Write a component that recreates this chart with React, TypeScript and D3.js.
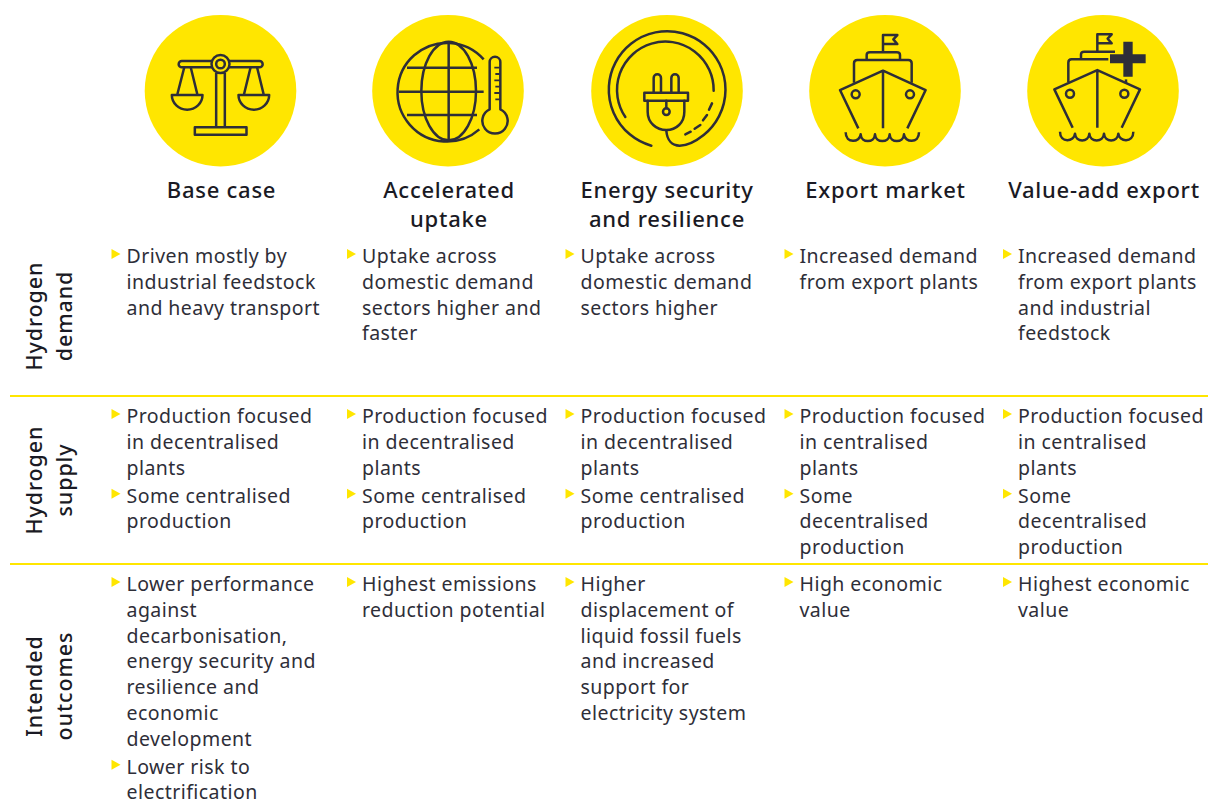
import * as d3 from 'd3';

const scenarios = ['base', 'accelerated', 'security', 'export', 'valueAdd'];
const scenarioTitles = [
  ['Base case'],
  ['Accelerated', 'uptake'],
  ['Energy security', 'and resilience'],
  ['Export market'],
  ['Value-add export'],
];
const rowNames = ['demand', 'supply', 'outcomes'];
const rowTitles = [
  ['Hydrogen', 'demand'],
  ['Hydrogen', 'supply'],
  ['Intended', 'outcomes'],
];

const demandText = [
  [['Driven mostly by', 'industrial feedstock', 'and heavy transport']],
  [['Uptake across', 'domestic demand', 'sectors higher and', 'faster']],
  [['Uptake across', 'domestic demand', 'sectors higher']],
  [['Increased demand', 'from export plants']],
  [['Increased demand', 'from export plants', 'and industrial', 'feedstock']],
];
const decentralised = [
  ['Production focused', 'in decentralised', 'plants'],
  ['Some centralised', 'production'],
];
const centralised = [
  ['Production focused', 'in centralised', 'plants'],
  ['Some', 'decentralised', 'production'],
];
const supplyText = [decentralised, decentralised, decentralised, centralised, centralised];
const outcomesText = [
  [
    ['Lower performance', 'against', 'decarbonisation,', 'energy security and', 'resilience and', 'economic', 'development'],
    ['Lower risk to', 'electrification'],
  ],
  [['Highest emissions', 'reduction potential']],
  [['Higher', 'displacement of', 'liquid fossil fuels', 'and increased', 'support for', 'electricity system']],
  [['High economic', 'value']],
  [['Highest economic', 'value']],
];
const rowText = [demandText, supplyText, outcomesText];

// layout
const YELLOW = '#ffe600';
const DARK = '#2e2e38';
const FONT = '"Noto Sans", sans-serif';

const textX = d3.scaleOrdinal<string, number>().domain(scenarios).range([126.5, 362, 580.5, 799.5, 1018]);
const iconX = d3.scaleOrdinal<string, number>().domain(scenarios).range([220.5, 448, 667, 885, 1103]);
const titleX = d3.scaleOrdinal<string, number>().domain(scenarios).range([221.5, 449, 667, 885.5, 1104]);
const rowTop = d3.scaleOrdinal<string, number>().domain(rowNames).range([263, 423, 591]);
const rowMid = d3.scaleOrdinal<string, number>().domain(rowNames).range([316, 480, 686]);
const LINE = 25.75;
const BULLET_GAP = 2.4;

const triangle = d3.line()([[-15, -14], [-6, -9], [-15, -4]]) + 'Z';

// icons are traced at 3x, so every one of them sits in a scale(1/3) group
const IconGroup = ({ x, children }: any) => (
  <g
    transform={`translate(${x},90.7) scale(${1 / 3})`}
    fill="none"
    stroke={DARK}
    strokeWidth={7.5}
    strokeLinecap="round"
    strokeLinejoin="round"
  >
    {children}
  </g>
);

const Scales = () => (
  <g transform="translate(-271,-272)" strokeLinecap="butt">
    <path d="M245 183H155a9.5 9.5 0 0 0 0 19H245M297 183H388a9.5 9.5 0 0 1 0 19H297" />
    <circle cx={271} cy={192} r={27} />
    <circle cx={271} cy={192} r={13} />
    <path d="M258 218V382M284 218V382" />
    <rect x={194} y={382} width={155} height={22} />
    <path d="M162 203L141 285M182 203L202 285M125 285H217A46 44 0 0 1 125 285Z" />
    <path d="M361 203L341 285M381 203L401 285M325 285H417A46 44 0 0 1 325 285Z" />
  </g>
);

const Globe = () => (
  <g transform="translate(-953,-272)" strokeLinecap="butt">
    <path d="M1060 178A148 148 0 1 0 1047 388" />
    <ellipse cx={955} cy={273} rx={82} ry={148} />
    <path d="M955 125V421M830 203H1040M806 275H1060M830 345H1040" />
    <path d="M1078 328V186A16 16 0 0 1 1110 186V328A38 38 0 1 1 1078 328Z" />
    <path d="M1092 203H1108M1095 222H1108M1092 241H1108M1095 260H1108M1092 279H1108M1095 298H1108" strokeWidth={5.5} />
  </g>
);

const Plug = () => (
  <g transform="translate(-290,-272)">
    <path d="M243 437A175 175 0 1 1 400 405C375 425 350 437 328 437C305 437 290 420 288 392" />
    <path d="M165 351A145 145 0 1 1 430 272" />
    <path d="M345 403L361 395M373 386L390 375M398 361L410 345M416 329L425 310" />
    <path d="M250 278V234A11 11 0 0 1 272 234V278M303 278V234A11 11 0 0 1 325 234V278" />
    <rect x={222} y={278} width={131} height={24} />
    <path d="M232 302V335C232 368 258 390 288 390C318 390 342 368 342 335V302" />
    <path d="M288 302V325" />
    <circle cx={288} cy={335} r={10} />
  </g>
);

const Ship = ({ plus }: { plus?: boolean }) => (
  <g transform={plus ? 'translate(-294,-274)' : 'translate(-283,-272)'} strokeLinecap="butt">
    <path d="M203 385L148 270L277 212L405 270L350 385M277 212V385" />
    <circle cx={195} cy={283} r={12} />
    <circle cx={358} cy={283} r={12} />
    {plus ? (
      <>
        <path d="M190 248V190Q190 180 200 180H310" />
        <path d="M363 240V252" />
        <path d="M228 180V165Q228 157 238 157H330" />
      </>
    ) : (
      <>
        <path d="M190 248V190Q190 180 200 180H353Q363 180 363 190V248" />
        <path d="M228 180V165Q228 157 238 157H318Q328 157 328 165V180" />
      </>
    )}
    <path d="M277 157V105H320L308 118L320 132H277" />
    <path d="M165 397C165 432 208 428 210 403C212 430 251 430 253 403C255 430 295 430 297 403C299 430 338 430 340 403C342 428 385 432 385 397" />
    {plus && (
      <path
        d="M355 127H383V165H422V192H383V232H355V192H315V165H355Z"
        fill={DARK}
        stroke="none"
      />
    )}
  </g>
);

const icons = [<Scales />, <Globe />, <Plug />, <Ship />, <Ship plus />];

// walks the bullets of one cell and gives each one its first baseline
function bulletTops(bullets: string[][], top: number) {
  let y = top;
  return bullets.map((lines) => {
    const start = y;
    y += lines.length * LINE + BULLET_GAP;
    return start;
  });
}

export default function App() {
  return (
    <svg
      width={1208}
      height={801}
      viewBox="0 0 1208 801"
      style={{ position: 'absolute', left: 0, top: 0, background: '#fff' }}
      fontFamily={FONT}
    >
      {scenarios.map((s, i) => (
        <g key={s}>
          <circle cx={iconX(s)} cy={90.7} r={75.8} fill={YELLOW} />
          <IconGroup x={iconX(s)}>{icons[i]}</IconGroup>
          {scenarioTitles[i].map((t, j) => (
            <text
              key={t}
              x={titleX(s)}
              y={198 + j * 29}
              textAnchor="middle"
              fontSize={22}
              fontWeight={500}
              letterSpacing={0.75}
              fill="#1a1a24"
            >
              {t}
            </text>
          ))}
        </g>
      ))}

      {[396, 564].map((y) => (
        <line key={y} x1={10} x2={1208} y1={y} y2={y} stroke={YELLOW} strokeWidth={2} />
      ))}

      {rowNames.map((r, ri) => (
        <g key={r}>
          <g transform={`translate(42,${rowMid(r)}) rotate(-90)`}>
            {rowTitles[ri].map((t, j) => (
              <text
                key={t}
                y={j * 30}
                textAnchor="middle"
                fontSize={21.5}
                fontWeight={500}
                letterSpacing={0.9}
                fill="#1a1a24"
              >
                {t}
              </text>
            ))}
          </g>
          {scenarios.map((s, si) => {
            const cell = rowText[ri][si];
            const tops = bulletTops(cell, rowTop(r));
            return (
              <g key={s}>
                {cell.map((lines, b) => (
                  <g key={b} transform={`translate(${textX(s)},${tops[b]})`}>
                    <path d={triangle} fill={YELLOW} />
                    {lines.map((l, k) => (
                      <text key={k} y={k * LINE} fontSize={19.5} letterSpacing={0.45} fill={DARK}>
                        {l}
                      </text>
                    ))}
                  </g>
                ))}
              </g>
            );
          })}
        </g>
      ))}
    </svg>
  );
}
